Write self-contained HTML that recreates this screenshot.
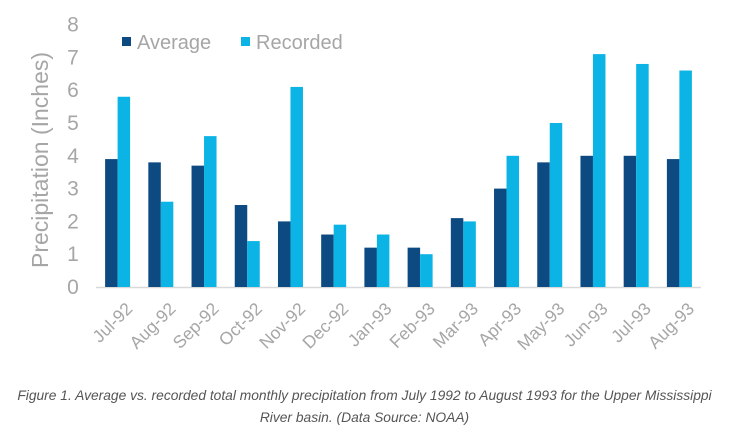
<!DOCTYPE html>
<html><head><meta charset="utf-8"><style>
body{margin:0;background:#fff;width:729px;height:439px;overflow:hidden}
.cap{position:absolute;left:0;width:729px;top:385px;text-align:center;font:italic 13.8px/22px "Liberation Sans",sans-serif;color:#555}
</style></head><body>
<svg width="729" height="380" style="position:absolute;left:0;top:0" font-family="Liberation Sans, sans-serif">
<g id="g"></g>
</svg>
<div class="cap">Figure 1. Average vs. recorded total monthly precipitation from July 1992 to August 1993 for the Upper Mississippi<br>River basin. (Data Source: NOAA)</div>
<script>
const categories=["Jul-92","Aug-92","Sep-92","Oct-92","Nov-92","Dec-92","Jan-93","Feb-93","Mar-93","Apr-93","May-93","Jun-93","Jul-93","Aug-93"];
const averageValues=[3.9,3.8,3.7,2.5,2.0,1.6,1.2,1.2,2.1,3.0,3.8,4.0,4.0,3.9];
const recordedValues=[5.8,2.6,4.6,1.4,6.1,1.9,1.6,1.0,2.0,4.0,5.0,7.1,6.8,6.6];
const yTicks=[0,1,2,3,4,5,6,7,8];
const NS="http://www.w3.org/2000/svg";
const g=document.getElementById('g');
const x0=96,x1=701,y0=287,pu=32.8;
const bw=(x1-x0)/categories.length;
function y(v){return y0-v*pu;}
function xc(i){return x0+bw*(i+0.5);}
function mk(t,a){const e=document.createElementNS(NS,t);for(const k in a)e.setAttribute(k,a[k]);g.appendChild(e);return e;}
yTicks.forEach(v=>{const t=mk('text',{x:73,y:y(v)+7,'text-anchor':'middle','font-size':21,fill:'#a6a6a6'});t.textContent=v;

});
const ax=mk('line',{x1:x0,x2:x1,y1:y0+0.5,y2:y0+0.5,stroke:'#d9d9d9','stroke-width':1.5});


const barW=12.5;
categories.forEach((c,i)=>{
 const cx=xc(i);
 const a=mk('rect',{x:cx-barW,y:y(averageValues[i]),width:barW,height:averageValues[i]*pu,fill:'#0d4a82'});
 
 
 const r=mk('rect',{x:cx,y:y(recordedValues[i]),width:barW,height:recordedValues[i]*pu,fill:'#0bb4e4'});
 
 
 const t=mk('text',{x:cx+6,y:300,'text-anchor':'end','font-size':17.5,fill:'#a6a6a6',transform:`rotate(-45 ${cx+6} 300)`,dy:'0.8em'});
 t.textContent=c;
 
 
});
const yt=mk('text',{x:48,y:160,'text-anchor':'middle','font-size':23,fill:'#a6a6a6',transform:'rotate(-90 48 160)'});
yt.textContent='Precipitation (Inches)';


const l1=mk('rect',{x:122,y:37,width:9,height:9,fill:'#0d4a82'});


const lt1=mk('text',{x:137,y:49,'font-size':20,fill:'#a6a6a6'});lt1.textContent='Average';


const l2=mk('rect',{x:241,y:37,width:9,height:9,fill:'#0bb4e4'});


const lt2=mk('text',{x:256,y:49,'font-size':20,fill:'#a6a6a6'});lt2.textContent='Recorded';


</script>
</body></html>
